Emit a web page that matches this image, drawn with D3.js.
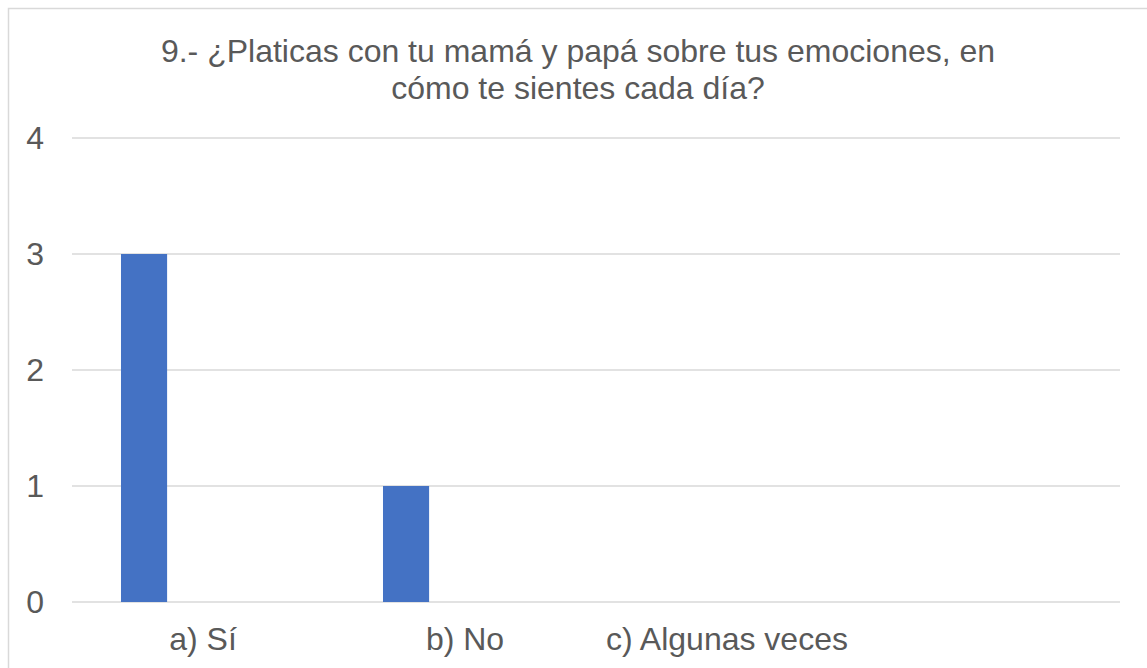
<!DOCTYPE html>
<html>
<head>
<meta charset="utf-8">
<script src="https://cdn.jsdelivr.net/npm/d3@7"></script>
<style>
  body { margin: 0; background: #fff; }
  text { font-family: "Liberation Sans", Arial, sans-serif; fill: #595959; }
</style>
</head>
<body>
<svg id="chart" width="1147" height="668"></svg>
<script>
const titleLines = ['9.- ¿Platicas con tu mamá y papá sobre tus emociones, en', 'cómo te sientes cada día?'];
const categories = ['a) Sí', 'b) No', 'c) Algunas veces', ''];
const values = [3, 1, 0, null];
const yTicks = [0, 1, 2, 3, 4];

const svg = d3.select('#chart');
const width = 1147;
const height = 668;
const margin = { top: 138, right: 27, bottom: 66, left: 72 };
const fontSize = 32;

// chart frame (right and bottom edges run off the picture)
svg.append('rect')
  .attr('x', 8.5).attr('y', 8.5)
  .attr('width', width + 20).attr('height', height + 20)
  .attr('fill', '#fff')
  .attr('stroke', '#d9d9d9')
  .attr('stroke-width', 1.5);

const x = d3.scaleBand().domain(categories).range([margin.left, width - margin.right]);
const y = d3.scaleLinear().domain([0, 4]).range([height - margin.bottom, margin.top]);

// gridlines
svg.append('g')
  .selectAll('line')
  .data(yTicks)
  .join('line')
  .attr('x1', margin.left).attr('x2', width - margin.right)
  .attr('y1', d => y(d)).attr('y2', d => y(d))
  .attr('stroke', '#d9d9d9')
  .attr('stroke-width', 1.5);

// y labels
const yAxis = svg.append('g')
  .attr('transform', `translate(${margin.left},0)`)
  .call(d3.axisLeft(y).tickValues(yTicks).tickFormat(d3.format('d')).tickSize(0).tickPadding(28));
yAxis.select('.domain').remove();
yAxis.selectAll('text').attr('font-size', fontSize).attr('fill', '#595959').attr('font-family', '"Liberation Sans", Arial, sans-serif');

// bars
const barOffset = x.bandwidth() * 0.187;
const barWidth = x.bandwidth() * 0.176;
svg.append('g')
  .selectAll('rect')
  .data(categories.map((c, i) => ({ c, v: values[i] })).filter(d => d.v))
  .join('rect')
  .attr('x', d => x(d.c) + barOffset)
  .attr('width', barWidth)
  .attr('y', d => y(d.v))
  .attr('height', d => y(0) - y(d.v))
  .attr('fill', '#4472c4');

// x labels
const xAxis = svg.append('g')
  .attr('transform', `translate(0,${y(0)})`)
  .call(d3.axisBottom(x).tickSize(0).tickPadding(25));
xAxis.select('.domain').remove();
xAxis.selectAll('text').attr('font-size', fontSize).attr('fill', '#595959').attr('font-family', '"Liberation Sans", Arial, sans-serif');

// title
svg.append('text')
  .attr('text-anchor', 'middle')
  .attr('font-size', fontSize)
  .selectAll('tspan')
  .data(titleLines)
  .join('tspan')
  .attr('x', 578)
  .attr('y', (d, i) => 62 + i * 37)
  .text(d => d);
</script>
</body>
</html>
